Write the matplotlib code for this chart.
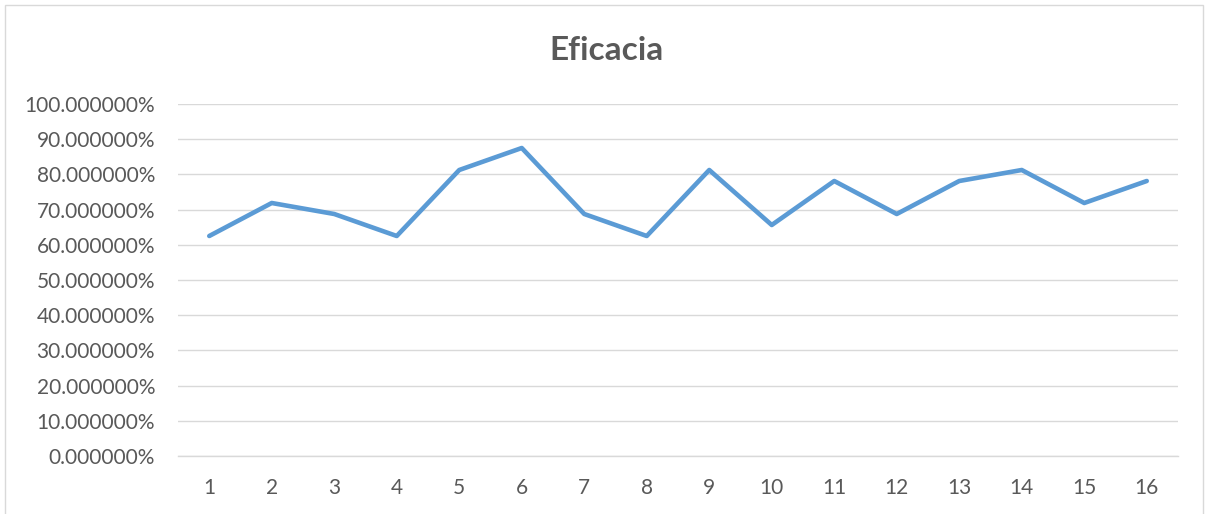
import matplotlib.pyplot as plt
from matplotlib.patches import Rectangle
from matplotlib.ticker import FuncFormatter

categorias = list(range(1, 17))
eficacia = [62.5, 71.875, 68.75, 62.5, 81.25, 87.5, 68.75, 62.5,
            81.25, 65.625, 78.125, 68.75, 78.125, 81.25, 71.875, 78.125]
ticks_y = [0, 10, 20, 30, 40, 50, 60, 70, 80, 90, 100]

plt.rcParams["font.family"] = ["Lato", "DejaVu Sans"]

fig = plt.figure(figsize=(12.08, 5.14), dpi=100)
ax = fig.add_axes([178 / 1208, 1 - 456 / 514, 1000 / 1208, 352 / 514])

# marco del grafico
fig.patches.append(Rectangle((5 / 1208, -0.05), 1198 / 1208, 1 - 5 / 514 + 0.05,
                             transform=fig.transFigure, fill=False,
                             edgecolor="#D9D9D9", linewidth=1.0))

ax.plot(categorias, eficacia, color="#5B9BD5", linewidth=3.3,
        solid_joinstyle="round", solid_capstyle="round", zorder=3)

ax.set_xlim(0.5, 16.5)
ax.set_ylim(0, 100)
ax.set_xticks(categorias)
ax.set_yticks(ticks_y)
ax.yaxis.set_major_formatter(FuncFormatter(lambda v, _: f"{v:.6f}%"))
ax.grid(axis="y", color="#D9D9D9", linewidth=1.0)
ax.set_axisbelow(True)

for s in ["top", "right", "left"]:
    ax.spines[s].set_visible(False)
ax.spines["bottom"].set_color("#D9D9D9")
ax.spines["bottom"].set_linewidth(1.0)

ax.tick_params(axis="both", length=0, labelsize=15, labelcolor="#595959")
ax.tick_params(axis="y", pad=16.5)
ax.tick_params(axis="x", pad=16)

fig.text(606 / 1208, 1 - 50 / 514, "Eficacia", ha="center", va="center",
         fontsize=24, fontweight="bold", color="#595959")

fig.savefig("out.png", dpi=100)
